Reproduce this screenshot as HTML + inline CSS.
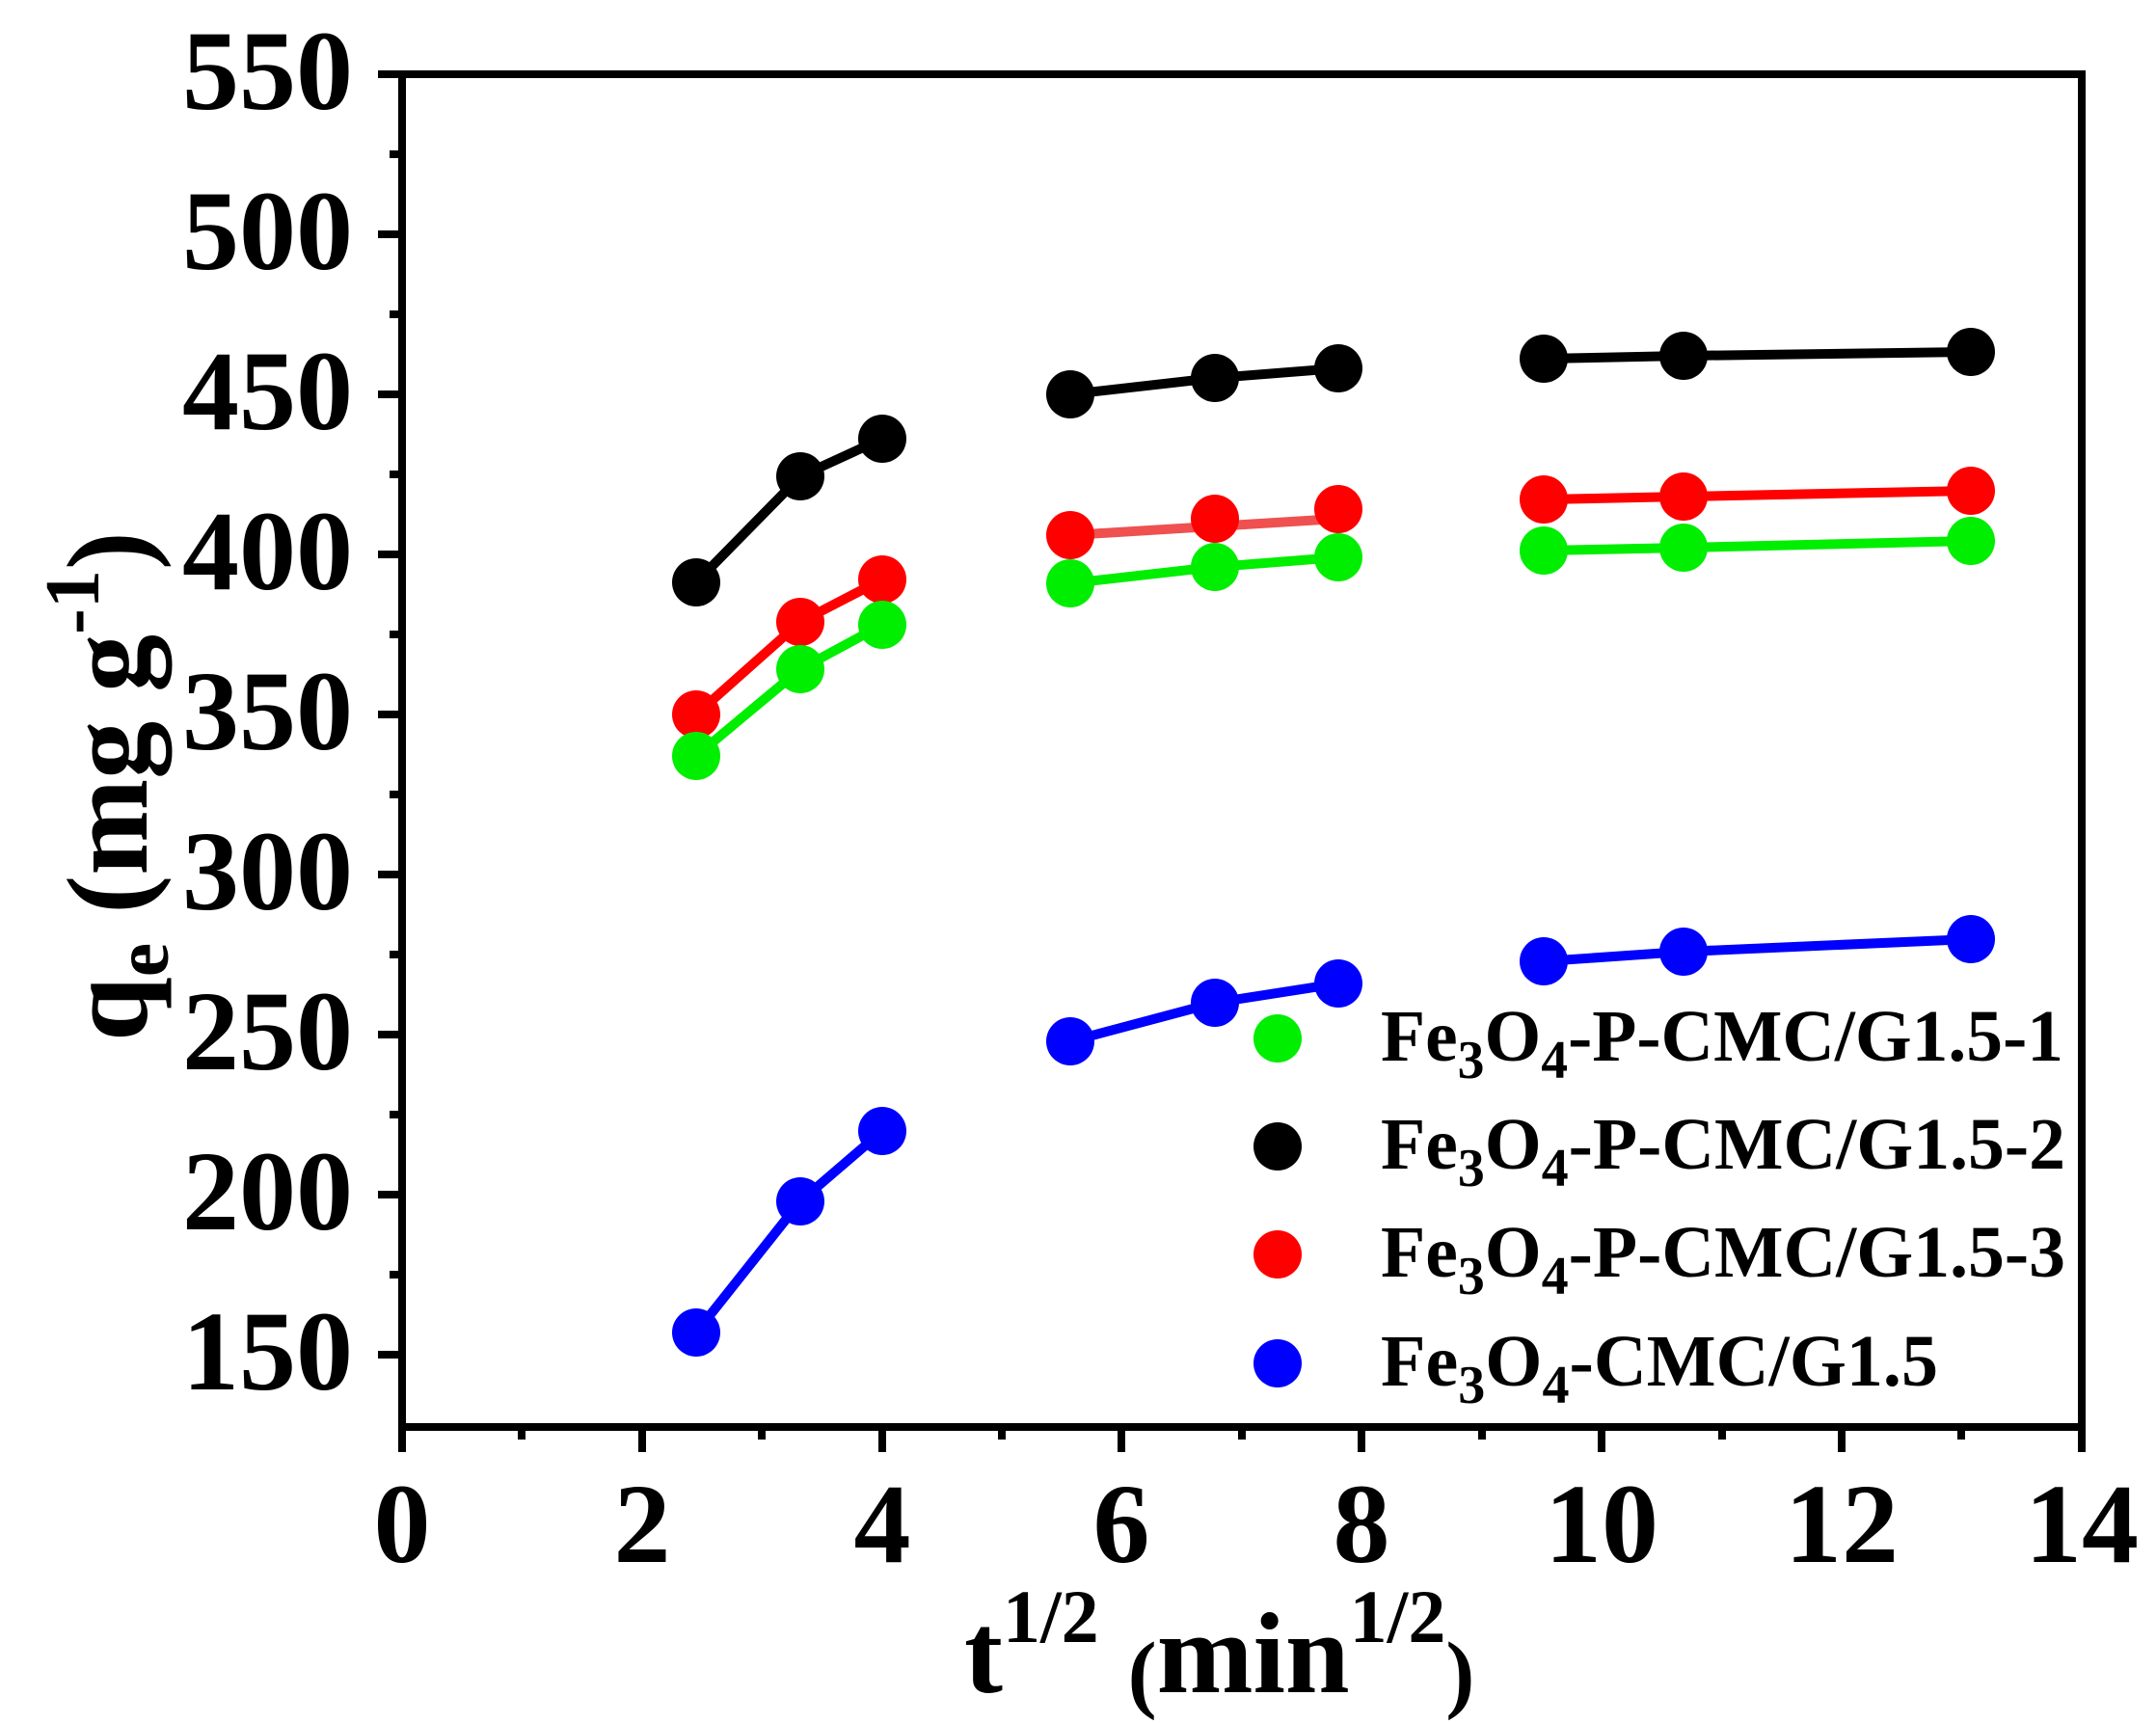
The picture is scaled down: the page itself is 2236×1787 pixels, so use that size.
<!DOCTYPE html>
<html><head><meta charset="utf-8"><style>
html,body{margin:0;padding:0;background:#fff;}
svg{display:block;}
text{font-family:"Liberation Serif","Times New Roman",serif;font-weight:bold;fill:#000;}
</style></head><body>
<svg width="2236" height="1787" viewBox="0 0 2236 1787" xmlns="http://www.w3.org/2000/svg">
<rect x="417" y="77" width="1742" height="1403" fill="none" stroke="#000" stroke-width="8"/>
<g stroke="#000" stroke-width="8">
<line x1="392" y1="77" x2="417" y2="77"/>
<line x1="392" y1="243" x2="417" y2="243"/>
<line x1="392" y1="409" x2="417" y2="409"/>
<line x1="392" y1="575" x2="417" y2="575"/>
<line x1="392" y1="741" x2="417" y2="741"/>
<line x1="392" y1="907" x2="417" y2="907"/>
<line x1="392" y1="1073" x2="417" y2="1073"/>
<line x1="392" y1="1239" x2="417" y2="1239"/>
<line x1="392" y1="1405" x2="417" y2="1405"/>
<line x1="404" y1="160" x2="417" y2="160"/>
<line x1="404" y1="326" x2="417" y2="326"/>
<line x1="404" y1="492" x2="417" y2="492"/>
<line x1="404" y1="658" x2="417" y2="658"/>
<line x1="404" y1="824" x2="417" y2="824"/>
<line x1="404" y1="990" x2="417" y2="990"/>
<line x1="404" y1="1156" x2="417" y2="1156"/>
<line x1="404" y1="1322" x2="417" y2="1322"/>
</g>
<g stroke="#000" stroke-width="8">
<line x1="417" y1="1480" x2="417" y2="1506"/>
<line x1="666" y1="1480" x2="666" y2="1506"/>
<line x1="915" y1="1480" x2="915" y2="1506"/>
<line x1="1163" y1="1480" x2="1163" y2="1506"/>
<line x1="1412" y1="1480" x2="1412" y2="1506"/>
<line x1="1661" y1="1480" x2="1661" y2="1506"/>
<line x1="1910" y1="1480" x2="1910" y2="1506"/>
<line x1="2159" y1="1480" x2="2159" y2="1506"/>
<line x1="541" y1="1480" x2="541" y2="1493"/>
<line x1="790" y1="1480" x2="790" y2="1493"/>
<line x1="1039" y1="1480" x2="1039" y2="1493"/>
<line x1="1288" y1="1480" x2="1288" y2="1493"/>
<line x1="1537" y1="1480" x2="1537" y2="1493"/>
<line x1="1786" y1="1480" x2="1786" y2="1493"/>
<line x1="2034" y1="1480" x2="2034" y2="1493"/>
</g>
<g font-size="118" text-anchor="end">
<text x="366" y="113">550</text>
<text x="366" y="279">500</text>
<text x="366" y="445">450</text>
<text x="366" y="611">400</text>
<text x="366" y="777">350</text>
<text x="366" y="943">300</text>
<text x="366" y="1109">250</text>
<text x="366" y="1275">200</text>
<text x="366" y="1441">150</text>
</g>
<g font-size="118" text-anchor="middle">
<text x="417" y="1620">0</text>
<text x="666" y="1620">2</text>
<text x="915" y="1620">4</text>
<text x="1163" y="1620">6</text>
<text x="1412" y="1620">8</text>
<text x="1661" y="1620">10</text>
<text x="1910" y="1620">12</text>
<text x="2159" y="1620">14</text>
</g>
<text x="1000" y="1755" font-size="120">t<tspan font-size="78" dy="-52">1/2</tspan><tspan font-size="120" dy="52"> </tspan><tspan font-size="90" dy="10">(</tspan><tspan font-size="120" dy="-10">min</tspan><tspan font-size="78" dy="-52">1/2</tspan><tspan font-size="90" dy="62">)</tspan></text>
<g transform="translate(152,1080) rotate(-90)">
<text x="0" y="0" font-size="120">q<tspan font-size="80" dy="22">e</tspan><tspan dy="-22"> (mg g</tspan><tspan font-size="80" dy="-50">-1</tspan><tspan dy="50">)</tspan></text>
</g>
<g stroke-width="10" stroke-linecap="round" fill="none">
<polyline stroke="#000" points="722,604 830,494 915,455"/>
<polyline stroke="#000" points="1110,409 1260,392 1388,382"/>
<polyline stroke="#000" points="1601,372 1746,369 2044,365"/>
<polyline stroke="#00ee00" points="722,784 830,694 915,648"/>
<polyline stroke="#00ee00" points="1110,605 1260,588 1388,578"/>
<polyline stroke="#00ee00" points="1601,571 1746,568 2044,561"/>
<polyline stroke="#ff0000" points="722,741 830,645 915,601"/>
<line stroke="#ef5050" x1="1110" y1="555" x2="1388" y2="538"/>
<polyline stroke="#ff0000" points="1601,518 1746,515 2044,509"/>
<polyline stroke="#0000ff" points="722,1382 830,1246 915,1173"/>
<polyline stroke="#0000ff" points="1110,1080 1260,1040 1388,1020"/>
<polyline stroke="#0000ff" points="1601,997 1746,987 2044,974"/>
</g>
<g>
<g fill="#000">
<circle cx="722" cy="604" r="25"/><circle cx="830" cy="494" r="25"/><circle cx="915" cy="455" r="25"/>
<circle cx="1110" cy="409" r="25"/><circle cx="1260" cy="392" r="25"/><circle cx="1388" cy="382" r="25"/>
<circle cx="1601" cy="372" r="25"/><circle cx="1746" cy="369" r="25"/><circle cx="2044" cy="365" r="25"/>
</g>
<g fill="#ff0000">
<circle cx="722" cy="741" r="25"/><circle cx="830" cy="645" r="25"/><circle cx="915" cy="601" r="25"/>
<circle cx="1110" cy="555" r="25"/><circle cx="1260" cy="538" r="25"/><circle cx="1388" cy="528" r="25"/>
<circle cx="1601" cy="518" r="25"/><circle cx="1746" cy="515" r="25"/><circle cx="2044" cy="509" r="25"/>
</g>
<g fill="#00ee00">
<circle cx="722" cy="784" r="25"/><circle cx="830" cy="694" r="25"/><circle cx="915" cy="648" r="25"/>
<circle cx="1110" cy="605" r="25"/><circle cx="1260" cy="588" r="25"/><circle cx="1388" cy="578" r="25"/>
<circle cx="1601" cy="571" r="25"/><circle cx="1746" cy="568" r="25"/><circle cx="2044" cy="561" r="25"/>
</g>
<g fill="#0000ff">
<circle cx="722" cy="1382" r="25"/><circle cx="830" cy="1246" r="25"/><circle cx="915" cy="1173" r="25"/>
<circle cx="1110" cy="1080" r="25"/><circle cx="1260" cy="1040" r="25"/><circle cx="1388" cy="1020" r="25"/>
<circle cx="1601" cy="997" r="25"/><circle cx="1746" cy="987" r="25"/><circle cx="2044" cy="974" r="25"/>
</g>
</g>
<circle cx="1325" cy="1077" r="25" fill="#00ee00"/>
<circle cx="1325" cy="1189" r="25" fill="#000"/>
<circle cx="1325" cy="1301" r="25" fill="#ff0000"/>
<circle cx="1325" cy="1414" r="25" fill="#0000ff"/>
<g font-size="76">
<text x="1432" y="1100" textLength="708" lengthAdjust="spacingAndGlyphs">Fe<tspan dy="18" font-size="56">3</tspan><tspan dy="-18">O</tspan><tspan dy="18" font-size="56">4</tspan><tspan dy="-18">-P-CMC/G1.5-1</tspan></text>
<text x="1432" y="1212" textLength="710" lengthAdjust="spacingAndGlyphs">Fe<tspan dy="18" font-size="56">3</tspan><tspan dy="-18">O</tspan><tspan dy="18" font-size="56">4</tspan><tspan dy="-18">-P-CMC/G1.5-2</tspan></text>
<text x="1432" y="1324" textLength="710" lengthAdjust="spacingAndGlyphs">Fe<tspan dy="18" font-size="56">3</tspan><tspan dy="-18">O</tspan><tspan dy="18" font-size="56">4</tspan><tspan dy="-18">-P-CMC/G1.5-3</tspan></text>
<text x="1432" y="1437" textLength="578" lengthAdjust="spacingAndGlyphs">Fe<tspan dy="18" font-size="56">3</tspan><tspan dy="-18">O</tspan><tspan dy="18" font-size="56">4</tspan><tspan dy="-18">-CMC/G1.5</tspan></text>
</g>
</svg>
</body></html>
